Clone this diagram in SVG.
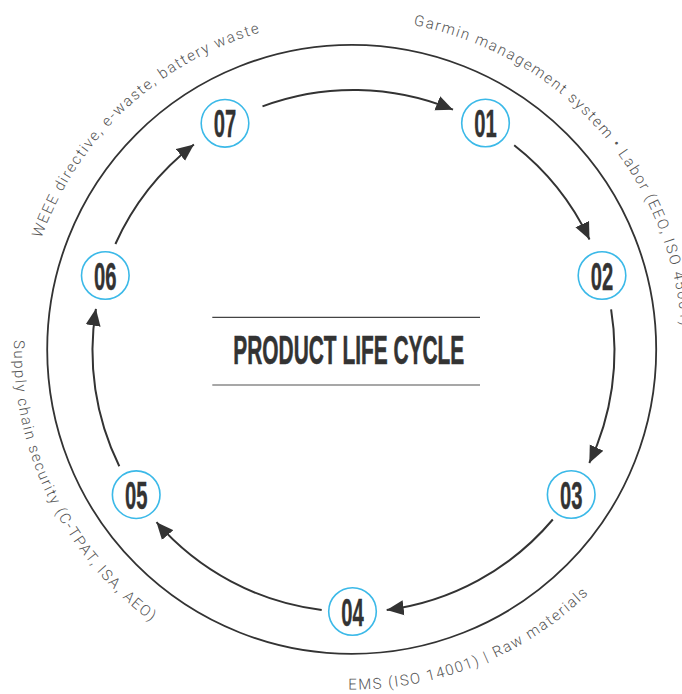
<svg xmlns="http://www.w3.org/2000/svg" width="682" height="694" viewBox="0 0 682 694">
  <style>
    .ring { fill: none; stroke: #333; stroke-width: 1.8; }
    .flow { fill: none; stroke: #333; stroke-width: 2; marker-end: url(#arrow); }
    .node circle { fill: #fff; stroke: #3bb9e8; stroke-width: 1.6; }
    .node text { font-family: "Liberation Sans", Arial, sans-serif; font-weight: bold; font-size: 39px; fill: #333; stroke: #333; stroke-width: 0.4; }
    .label { font-family: Roboto, "Liberation Sans", sans-serif; font-weight: 300; font-size: 15px; letter-spacing: 1.6px; fill: #555; }
    .title { font-family: "Liberation Sans", Arial, sans-serif; font-weight: bold; font-size: 40.5px; fill: #333; stroke: #333; stroke-width: 0.6; }
  </style>
  <defs>
    <marker id="arrow" markerUnits="userSpaceOnUse" markerWidth="18" markerHeight="16" refX="17" refY="8" orient="auto">
      <path d="M0,0.5 L17,8 L0,15.5 Z" fill="#333"/>
    </marker>
    <!-- baselines for the curved captions -->
    <path id="arcWeee" d="M41.3,238.3 A330,330 0 0 1 517,63.7"/>
    <path id="arcGarmin" d="M413.3,25.2 A330,330 0 0 1 604.8,561.6"/>
    <path id="arcEms" d="M348.4,689.5 A340,340 0 0 0 686.8,408.5"/>
    <path id="arcSupply" d="M14.1,340.1 A338,338 0 0 0 293.3,682.4"/>
  </defs>

  <!-- outer ring -->
  <circle class="ring" cx="351.7" cy="349.4" r="304.5"/>

  <!-- curved captions -->
  <text class="label"><textPath href="#arcWeee">WEEE directive, e-waste, battery waste</textPath></text>
  <text class="label"><textPath href="#arcGarmin">Garmin management system • Labor (EEO, ISO 45001)</textPath></text>
  <text class="label"><textPath href="#arcEms">EMS (ISO 14001) | Raw materials</textPath></text>
  <text class="label"><textPath href="#arcSupply">Supply chain security (C-TPAT, ISA, AEO)</textPath></text>

  <!-- title -->
  <g id="title">
    <line x1="212.3" y1="317.3" x2="480" y2="317.3" stroke="#444" stroke-width="1.3"/>
    <text class="title" x="233.3" y="364.3" textLength="231" lengthAdjust="spacingAndGlyphs">PRODUCT LIFE CYCLE</text>
    <line x1="212.3" y1="385" x2="480" y2="385" stroke="#8a8a8a" stroke-width="1.3"/>
  </g>

  <!-- connectors between the stages -->
  <g id="connectors">
    <path class="flow" d="M262.5,106.4 A261,261 0 0 1 453,109.7"/>
    <path class="flow" d="M514.2,145.3 A261,261 0 0 1 589.5,239.5"/>
    <path class="flow" d="M611.1,309.3 A261,261 0 0 1 589.3,463"/>
    <path class="flow" d="M552.8,519.5 A261,261 0 0 1 386.7,609.9"/>
    <path class="flow" d="M321.7,610 A261,261 0 0 1 156.5,522.2"/>
    <path class="flow" d="M119.3,466.2 A261,261 0 0 1 95.9,308.8"/>
    <path class="flow" d="M115.4,244 A261,261 0 0 1 193.9,144.5"/>
  </g>

  <!-- stages -->
  <g id="node01" class="node">
    <circle cx="485.5" cy="123" r="23.8"/>
    <text x="474.3" y="137" textLength="22.5" lengthAdjust="spacingAndGlyphs">01</text>
  </g>
  <g id="node02" class="node">
    <circle cx="602" cy="275.5" r="23.8"/>
    <text x="590.8" y="289.5" textLength="22.5" lengthAdjust="spacingAndGlyphs">02</text>
  </g>
  <g id="node03" class="node">
    <circle cx="571.2" cy="494.5" r="23.8"/>
    <text x="560" y="508.5" textLength="22.5" lengthAdjust="spacingAndGlyphs">03</text>
  </g>
  <g id="node04" class="node">
    <circle cx="352.5" cy="611.5" r="23.8"/>
    <text x="341.3" y="625.5" textLength="22.5" lengthAdjust="spacingAndGlyphs">04</text>
  </g>
  <g id="node05" class="node">
    <circle cx="136.2" cy="494.7" r="23.8"/>
    <text x="125" y="508.7" textLength="22.5" lengthAdjust="spacingAndGlyphs">05</text>
  </g>
  <g id="node06" class="node">
    <circle cx="105.3" cy="275.5" r="23.8"/>
    <text x="94.1" y="289.5" textLength="22.5" lengthAdjust="spacingAndGlyphs">06</text>
  </g>
  <g id="node07" class="node">
    <circle cx="225" cy="123.3" r="23.8"/>
    <text x="213.8" y="137.3" textLength="22.5" lengthAdjust="spacingAndGlyphs">07</text>
  </g>
</svg>
